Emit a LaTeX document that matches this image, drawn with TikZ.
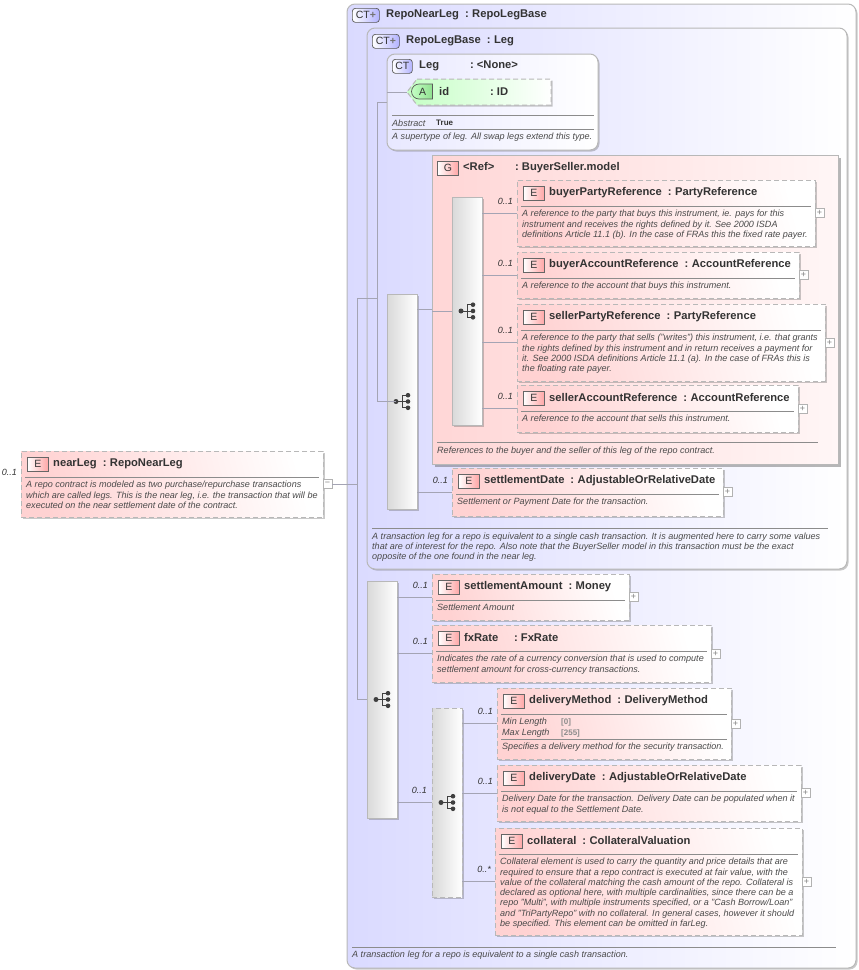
\documentclass[tikz,border=0pt]{standalone}
\usepackage{fontspec}
\setmainfont{Liberation Sans}
\usetikzlibrary{shapes, shapes.misc, positioning, calc, shadows}
\definecolor{ctblue}{HTML}{DADAFF}
\definecolor{legblue}{HTML}{E8E8FF}
\definecolor{elempink}{HTML}{FFD2D2}
\definecolor{grouppink}{HTML}{FFD6D6}
\definecolor{grouppale}{HTML}{FFF6F6}
\definecolor{attgreen}{HTML}{C4FFC4}
\definecolor{badgegreen}{HTML}{8FE08F}
\definecolor{edgegrey}{HTML}{B8B8B8}
\definecolor{linegrey}{HTML}{A4A4B4}
\definecolor{inktext}{HTML}{333333}
\definecolor{desctext}{HTML}{4A4A4A}
\tikzstyle{softshadow} = [drop shadow={shadow xshift=1.5pt, shadow yshift=-1.5pt, opacity=.3, fill=black!70}]
\tikzstyle{ctbox} = [rectangle, draw=edgegrey, line width=1pt, rounded corners=8pt, anchor=north west, inner sep=0pt, outer sep=0pt, softshadow, left color=ctblue, right color=white]
\tikzstyle{legbox} = [ctbox, left color=legblue, right color=white]
\tikzstyle{elem} = [rectangle, draw=edgegrey, dash pattern=on 5pt off 3pt, line width=1pt, anchor=north west, inner sep=0pt, outer sep=0pt, softshadow, left color=elempink, right color=white, shading angle=105]
\tikzstyle{groupbox} = [rectangle, draw=edgegrey, line width=1pt, anchor=north west, inner sep=0pt, outer sep=0pt, drop shadow={shadow xshift=2.5pt, shadow yshift=-2.5pt, opacity=.4, fill=black!70}, left color=grouppink, right color=grouppale]
\tikzstyle{seqbox} = [rectangle, draw=edgegrey, line width=1pt, anchor=north west, inner sep=0pt, outer sep=0pt, minimum width=30pt, softshadow, left color=black!15, right color=white]
\tikzstyle{seqdash} = [seqbox, dash pattern=on 5pt off 3pt]
\tikzstyle{ebadge} = [rectangle, draw=black!60, line width=.7pt, inner sep=0pt, minimum width=21pt, minimum height=14pt, left color=white, right color=red!35!white, text=inktext, font=\fontsize{10.5}{12}\selectfont]
\tikzstyle{ctbadge} = [rectangle, rounded corners=3pt, draw=black!65, line width=.7pt, inner sep=0pt, minimum height=14pt, left color=white, right color=blue!30!white, text=inktext, font=\fontsize{10.5}{12}\selectfont]
\tikzstyle{abadge} = [rounded rectangle, rounded rectangle right arc=none, draw=black!65, line width=.7pt, inner sep=0pt, minimum width=21pt, minimum height=15pt, left color=attgreen, right color=badgegreen, text=inktext, font=\fontsize{10.5}{12}\selectfont]
\tikzstyle{attanchor} = [rectangle, inner sep=0pt, outer sep=0pt, minimum width=144pt, minimum height=26pt]
\tikzstyle{attbox} = [draw=edgegrey, dash pattern=on 5pt off 3pt, line width=1pt, left color=attgreen, right color=white, softshadow]
\tikzstyle{titletext} = [inner sep=0pt, text=inktext, font=\fontsize{11.2}{12}\selectfont\bfseries]
\tikzstyle{desc} = [inner sep=0pt, align=left, text=desctext, font=\fontsize{9.05}{10.3}\selectfont\itshape]
\tikzstyle{card} = [inner sep=0pt, text=inktext, font=\fontsize{9}{10}\selectfont\itshape]
\tikzstyle{expander} = [rectangle, draw=black!30, fill=white, line width=.5pt, inner sep=0pt, outer sep=0pt, minimum size=9pt, text=black!50, font=\fontsize{9}{9}\selectfont]
\tikzstyle{rule} = [draw=black!45, line width=.8pt]
\tikzstyle{conn} = [draw=linegrey, line width=1pt]
\tikzset{seqicon/.pic={
	\draw[black!75, line width=.9pt] (-6,0) -- (0,0) (0,-6.3) -- (0,6.3) (0,-6.3) -- (6,-6.3) (0,6.3) -- (6,6.3) (0,0) -- (6,0);
	\fill[black!75] (-6,0) circle (2.5) (6,-6.3) circle (2.3) (6,0) circle (2.3) (6,6.3) circle (2.3);
}}
\newcommand{\ofs}{\hspace{6pt}:\hspace{3.5pt}}
\newcommand{\facetval}[1]{{\upshape\fontsize{8}{9}\selectfont\bfseries\textcolor{black!45}{#1}}}
% name, x, y, width, height, title, text, cardinality, expander
\newcommand{\elembox}[9]{
	\node[elem, minimum width=#4pt, minimum height=#5pt] (#1) at (#2,#3) {};
	\node[ebadge, anchor=north west] (#1badge) at ($(#1.north west)+(6,6)$) {E};
	\node[titletext, anchor=west] (#1title) at ($(#1.north west)+(32,12.5)$) {#6};
	\draw[rule] ($(#1.north west)+(4,26)$) -- ($(#1.north east)+(-4,26)$);
	\node[desc, anchor=north west] (#1desc) at ($(#1.north west)+(5,30)$) {#7};
	\node[expander, right=0pt of #1] (#1exp) {#9};
	\node[card, anchor=base east] (#1card) at ($(#1.west)+(-4,-9)$) {#8};
}

\begin{document}
\begin{tikzpicture}[x=1pt, y=-1pt]
	\useasboundingbox (0,0) rectangle (859,970);

	\node[ctbox, minimum width=509pt, minimum height=964pt] (nearbase) at (347,4) {};
	\node[ctbadge, minimum width=27pt, anchor=north west] (nearbasebadge) at (352,8) {CT\textcolor{black!55}{\textbf{+}}};
	\node[titletext, anchor=west] (nearbasetitle) at (386,15) {RepoNearLeg\ofs RepoLegBase};

	\node[ctbox, minimum width=480pt, minimum height=541pt] (legbase) at (367,28) {};
	\node[ctbadge, minimum width=27pt, anchor=north west] (legbasebadge) at (372,34) {CT\textcolor{black!55}{\textbf{+}}};
	\node[titletext, anchor=west] (legbasetitle) at (406,41) {RepoLegBase\ofs Leg};

	\node[legbox, minimum width=211pt, minimum height=96pt] (leg) at (387,54) {};
	\node[ctbadge, minimum width=20pt, anchor=north west] (legbadge) at (392,59) {CT};
	\node[titletext, anchor=west] (legtitle) at (419,66) {\makebox[51pt][l]{Leg}:\hspace{3pt}<None>};
	\node[attanchor] (att) at (479,92) {};
	\draw[attbox] ($(att.north west)+(10,0)$) -- (att.north east) -- (att.south east) -- ($(att.south west)+(10,0)$) -- (att.west) -- cycle;
	\node[abadge] (attbadge) at (422.5,91.5) {A};
	\node[titletext, anchor=west] (atttitle) at (439,91.5) {\makebox[51pt][l]{id}:\hspace{3pt}ID};
	\draw[rule] ($(leg.north west)+(5,61)$) -- ($(leg.north east)+(-4,61)$);
	\node[desc, anchor=west] (legabstract) at (392,123.5) {Abstract};
	\node[inner sep=0pt, anchor=west, text=inktext, font=\fontsize{8}{9}\selectfont\bfseries] (legtrue) at (436,122.5) {True};
	\draw[rule] ($(leg.north west)+(5,75.5)$) -- ($(leg.north east)+(-4,75.5)$);
	\node[desc, anchor=west] (legdesc) at (392,137.5) {A supertype of leg. All swap legs extend this type.};

	\node[groupbox, minimum width=406pt, minimum height=309pt] (group) at (432,155) {};
	\node[ebadge, anchor=north west] (groupbadge) at (437,161) {G};
	\node[titletext, anchor=west] (grouptitle) at (463,167.5) {\makebox[52pt][l]{<Ref>}:\hspace{3pt}BuyerSeller.model};
	\draw[rule] ($(group.north west)+(5,287)$) -- ($(group.north east)+(-20,287)$);
	\node[desc, anchor=west] (groupdesc) at (437,451.5) {References to the buyer and the seller of this leg of the repo contract.};

	\node[seqbox, minimum height=215pt] (seqone) at (387,294) {};
	\node[seqbox, minimum height=228pt] (seqgroup) at (452,197) {};
	\node[seqbox, minimum height=237pt] (seqtwo) at (367,581) {};
	\node[seqdash, minimum height=189pt] (seqdelivery) at (432,708) {};

	\elembox{buyerparty}{517}{180}{298}{66}{buyerPartyReference\ofs PartyReference}{A reference to the party that buys this instrument, ie. pays for this\\instrument and receives the rights defined by it. See 2000 ISDA\\definitions Article 11.1 (b). In the case of FRAs this the fixed rate payer.}{0..1}{+}
	\elembox{buyeraccount}{517}{252}{282}{46}{buyerAccountReference\ofs AccountReference}{A reference to the account that buys this instrument.}{0..1}{+}
	\elembox{sellerparty}{517}{304}{308}{77}{sellerPartyReference\ofs PartyReference}{A reference to the party that sells ("writes") this instrument, i.e. that grants\\the rights defined by this instrument and in return receives a payment for\\it. See 2000 ISDA definitions Article 11.1 (a). In the case of FRAs this is\\the floating rate payer.}{0..1}{+}
	\elembox{selleraccount}{517}{385}{281}{47}{sellerAccountReference\ofs AccountReference}{A reference to the account that sells this instrument.}{0..1}{+}
	\elembox{settledate}{452}{468}{271}{48}{settlementDate\ofs AdjustableOrRelativeDate}{Settlement or Payment Date for the transaction.}{0..1}{+}
	\elembox{settleamount}{432}{574}{197}{46}{settlementAmount\ofs Money}{Settlement Amount}{0..1}{+}
	\elembox{fxrate}{432}{625}{279}{57}{\makebox[50pt][l]{fxRate}:\hspace{3pt}FxRate}{Indicates the rate of a currency conversion that is used to compute\\settlement amount for cross-currency transactions.}{0..1}{+}
	\elembox{deliverymethod}{497}{688}{234}{71}{deliveryMethod\ofs DeliveryMethod}{\makebox[59pt][l]{Min Length}\facetval{[0]}\\\makebox[59pt][l]{Max Length}\facetval{[255]}\\[4.6pt]Specifies a delivery method for the security transaction.}{0..1}{+}
	\draw[rule] ($(deliverymethod.north west)+(4,51)$) -- ($(deliverymethod.north east)+(-4,51)$);
	\elembox{deliverydate}{497}{765}{304}{56}{deliveryDate\ofs AdjustableOrRelativeDate}{Delivery Date for the transaction. Delivery Date can be populated when it\\is not equal to the Settlement Date.}{0..1}{+}
	\elembox{collateral}{495}{828}{307}{107}{collateral\ofs CollateralValuation}{Collateral element is used to carry the quantity and price details that are\\required to ensure that a repo contract is executed at fair value, with the\\value of the collateral matching the cash amount of the repo. Collateral is\\declared as optional here, with multiple cardinalities, since there can be a\\repo "Multi", with multiple instruments specified, or a "Cash Borrow/Loan"\\and "TriPartyRepo" with no collateral. In general cases, however it should\\be specified. This element can be omitted in farLeg.}{0..*}{+}
	\elembox{nearleg}{21}{451}{302}{66}{nearLeg\ofs RepoNearLeg}{A repo contract is modeled as two purchase/repurchase transactions\\which are called legs. This is the near leg, i.e. the transaction that will be\\executed on the near settlement date of the contract.}{0..1}{−}

	\node[card, anchor=base east] (seqdeliverycard) at ($(seqdelivery.west |- seqdelivery.center)+(-5,-9)$) {0..1};

	\draw[rule] ($(legbase.south west)+(5,-41)$) -- ($(legbase.south east)+(-19,-41)$);
	\node[desc, anchor=north west] (legbasedesc) at (372,532.5) {A transaction leg for a repo is equivalent to a single cash transaction. It is augmented here to carry some values\\that are of interest for the repo. Also note that the BuyerSeller model in this transaction must be the exact\\opposite of the one found in the near leg.};
	\draw[rule] ($(nearbase.south west)+(5,-21)$) -- ($(nearbase.south east)+(-20,-21)$);
	\node[desc, anchor=west] (nearbasedesc) at (352,955.5) {A transaction leg for a repo is equivalent to a single cash transaction.};

	\pic at (seqone.center) {seqicon};
	\pic at (seqgroup.center) {seqicon};
	\pic at (seqtwo.center) {seqicon};
	\pic at (seqdelivery.center) {seqicon};

	\coordinate (spinea) at (357,0);
	\coordinate (spineb) at (377,0);
	\draw[conn] (nearlegexp.east) -- (spinea |- nearlegexp.east);
	\draw[conn] (spinea |- legbase.west) -- (spinea |- seqtwo.west) -- (seqtwo.west);
	\draw[conn] (spinea |- legbase.west) -- (spineb |- legbase.west);
	\draw[conn] (leg.west) -- (spineb |- leg.west) -- (spineb |- seqone.west) -- ($(seqone.center)+(-6,0)$);
	\draw[conn] (att.west -| leg.west) -- (att.west);
	\draw[conn] (seqone.east |- group.west) -- (group.west);
	\draw[conn] (group.west |- seqgroup.west) -- (seqgroup.west);
	\draw[conn] (seqgroup.east |- buyerparty.west) -- (buyerparty.west);
	\draw[conn] (seqgroup.east |- buyeraccount.west) -- (buyeraccount.west);
	\draw[conn] (seqgroup.east |- sellerparty.west) -- (sellerparty.west);
	\draw[conn] (seqgroup.east |- selleraccount.west) -- (selleraccount.west);
	\draw[conn] (seqone.east |- settledate.west) -- (settledate.west);
	\draw[conn] (seqtwo.east |- settleamount.west) -- (settleamount.west);
	\draw[conn] (seqtwo.east |- fxrate.west) -- (fxrate.west);
	\draw[conn] (seqtwo.east |- seqdelivery.center) -- (seqdelivery.west |- seqdelivery.center);
	\draw[conn] (seqdelivery.east |- deliverymethod.west) -- (deliverymethod.west);
	\draw[conn] (seqdelivery.east |- deliverydate.west) -- (deliverydate.west);
	\draw[conn] (seqdelivery.east |- collateral.west) -- (collateral.west);
\end{tikzpicture}
\end{document}
